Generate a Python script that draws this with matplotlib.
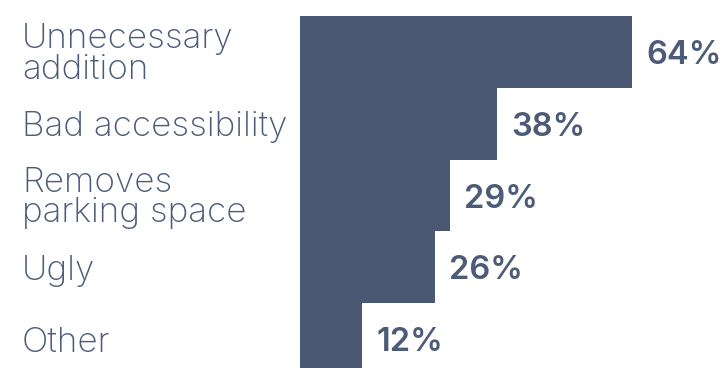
import matplotlib
matplotlib.use("Agg")
import matplotlib.pyplot as plt

# Reasons given, share of respondents (%)
reasons = ["Unnecessary\naddition", "Bad accessibility", "Removes\nparking space", "Ugly", "Other"]
shares = [64, 38, 29, 26, 12]

bar_color = "#4a5874"
text_color = "#4b5b78"

W, H = 724, 368
fig = plt.figure(figsize=(W / 100, H / 100), dpi=100)

# bars start 300px from the left edge
left_px = 300
ax = fig.add_axes([left_px / W, 0, 1 - left_px / W, 1])

px_per_unit = 332 / 64
ax.set_xlim(0, (W - left_px) / px_per_unit)

row_px = 71.8
top = -0.5 - 16 / row_px
ax.set_ylim(top + H / row_px, top)

y = list(range(len(reasons)))
ax.barh(y, shares, height=1.0, color=bar_color, linewidth=0)

for yi, label, v in zip(y, reasons, shares):
    ax.text((22 - left_px) / (W - left_px), yi, label, transform=ax.get_yaxis_transform(),
            ha="left", va="center_baseline", fontsize=25.2, family="Inter",
            fontweight="light", color=text_color, linespacing=0.92, clip_on=False)
    ax.text(v + 14 / px_per_unit, yi, f"{v}%", ha="left", va="center_baseline",
            fontsize=23.5, family="Inter", fontweight="semibold", color=text_color)

ax.axis("off")
fig.savefig("out.png", dpi=100)
